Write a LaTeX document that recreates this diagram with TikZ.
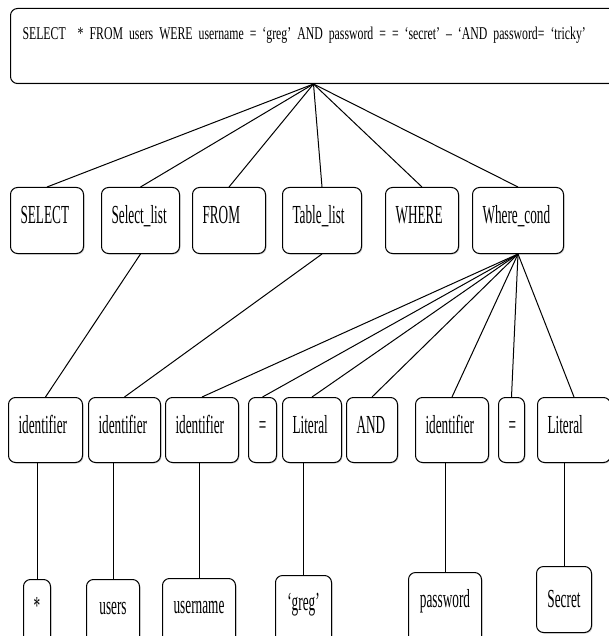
\documentclass[tikz,border=0pt]{standalone}
\usepackage{fontspec}
\setmainfont{Liberation Serif}[FakeStretch=0.51]
\newfontfamily\sqlfont{Liberation Serif}[FakeStretch=0.655]
\usetikzlibrary{positioning,shadows}

\begin{document}
\begin{tikzpicture}[x=1pt,y=-1pt,
  box/.style={draw,fill=white,rounded corners=7pt,line width=1pt,
    drop shadow={shadow xshift=1pt,shadow yshift=-1pt,opacity=0.35},
    font=\fontsize{26}{28}\selectfont,inner xsep=10pt,align=left,
    text height=17pt,text depth=11pt,minimum height=66pt},
  mid/.style={box,text depth=10pt,minimum height=65pt},
  leaf/.style={box,align=center,anchor=north west,text depth=22pt,minimum height=75pt},
  link/.style={line width=1pt},
  stem/.style={line width=0.7pt}]
  \useasboundingbox (0,0) rectangle (609,636);
  \fill[white] (0,0) rectangle (609,636);

  \node[box,anchor=north west,font=\sqlfont\fontsize{18}{20}\selectfont,
    inner xsep=12pt,text width=582pt,text height=12pt,text depth=25pt,
    minimum height=75pt] (root) at (10,8)
    {SELECT\ \ * FROM users WERE username = ‘greg’ AND password = = ‘secret’ – ‘AND password= ‘tricky’};

  \node[box,anchor=north west,text width=53pt] (sel) at (10,187) {SELECT};
  \node[box,text width=58pt,right=17pt of sel] (sell) {Select\_list};
  \node[box,text width=53pt,right=12pt of sell] (from) {FROM};
  \node[box,text width=59pt,right=16pt of from] (tabl) {Table\_list};
  \node[box,text width=53pt,right=23pt of tabl] (where) {WHERE};
  \node[box,text width=71pt,right=13pt of where] (wcond) {Where\_cond};

  \node[mid,anchor=north west,text width=54pt] (id1) at (8,397) {identifier};
  \node[mid,text width=52pt,right=5pt of id1] (id2) {identifier};
  \node[mid,text width=53pt,right=4pt of id2] (id3) {identifier};
  \node[mid,text width=8pt,align=center,right=9pt of id3] (eq1) {=};
  \node[mid,text width=39pt,right=5pt of eq1] (lit1) {Literal};
  \node[mid,text width=31pt,right=4pt of lit1] (andk) {AND};
  \node[mid,text width=53pt,right=17pt of andk] (id4) {identifier};
  \node[mid,text width=6pt,align=center,right=9pt of id4] (eq2) {=};
  \node[mid,text width=53pt,right=12pt of eq2] (lit2) {Literal};

  \node[leaf,text width=7pt] (star) at (23,579) {*};
  \node[leaf,text width=33pt] (users) at (86,579) {users};
  \node[leaf,text width=53pt] (uname) at (162,578) {username};
  \node[leaf,text width=36pt] (greg) at (275,575) {‘greg’};
  \node[leaf,text width=53pt] (pass) at (408,572) {password};
  \node[leaf,text width=35pt,text depth=2pt,minimum height=66pt] (secret) at (536,566) {Secret};

  \foreach \n in {sel,sell,from,tabl,where,wcond}
    \draw[link] (root.south) -- (\n.north);
  \draw[link] (sell.south) -- (id1.north);
  \draw[link] (tabl.south) -- (id2.north);
  \foreach \n in {id3,eq1,lit1,andk,id4,eq2,lit2}
    \draw[link] (wcond.south) -- (\n.north);
  \foreach \a/\b in {star/id1,users/id2,uname/id3,greg/lit1,pass/id4,secret/lit2}
    \draw[stem] (\a.north) -- (\a.north |- \b.south);
\end{tikzpicture}
\end{document}
